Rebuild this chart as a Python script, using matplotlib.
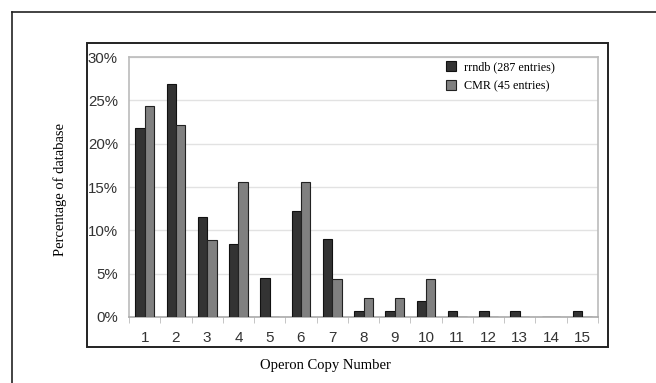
import numpy as np
import matplotlib.pyplot as plt
from matplotlib.patches import Rectangle
from matplotlib.lines import Line2D
from matplotlib.ticker import FuncFormatter

# andmed (loetud pildilt, protsentides)
copy_number = [1, 2, 3, 4, 5, 6, 7, 8, 9, 10, 11, 12, 13, 14, 15]
rrndb = [21.8, 26.9, 11.5, 8.4, 4.5, 12.2, 9.0, 0.7, 0.7, 1.9, 0.7, 0.7, 0.7, 0.0, 0.7]
cmr = [24.4, 22.2, 8.9, 15.6, 0.0, 15.6, 4.4, 2.2, 2.2, 4.4, 0.0, 0.0, 0.0, 0.0, 0.0]
labels = ["rrndb (287 entries)", "CMR (45 entries)"]

W, H = 656, 383
fig = plt.figure(figsize=(W / 100, H / 100), dpi=100)

# raamid
fig.add_artist(Line2D([12 / W, 12 / W], [0, 1 - 12 / H], color="#222222", lw=1.2))
fig.add_artist(Line2D([12 / W, 1], [1 - 12 / H, 1 - 12 / H], color="#222222", lw=1.2))
fig.add_artist(Rectangle((87 / W, 1 - 347 / H), (608 - 87) / W, (347 - 43) / H,
                         fill=False, edgecolor="#222222", lw=1.4))

ax = fig.add_axes([129 / W, 1 - 317 / H, (598 - 129) / W, (317 - 57) / H])
x = np.array(copy_number)
w = 0.3
ax.bar(x - w / 2, rrndb, w, color="#333333", edgecolor="#111111", lw=0.8, label=labels[0], zorder=3)
ax.bar(x + w / 2, cmr, w, color="#808080", edgecolor="#222222", lw=0.8, label=labels[1], zorder=3)

ax.set_xlim(0.5, 15.5)
ax.set_ylim(0, 30)
ax.set_yticks(range(0, 31, 5))
ax.yaxis.set_major_formatter(FuncFormatter(lambda v, p: f"{v:.0f}%"))
ax.set_xticks(x)
ax.set_xticks(np.arange(0.5, 15.6, 1), minor=True)
ax.tick_params(axis="x", which="major", length=0, pad=10, labelsize=11)
ax.tick_params(axis="x", which="minor", length=4, color="#bbbbbb", direction="out")
ax.tick_params(axis="y", length=0, pad=8, labelsize=10.8)
for t in ax.get_xticklabels() + ax.get_yticklabels():
    t.set_family("Liberation Sans")
    t.set_color("#333333")

ax.grid(axis="y", color="#e2e2e2", lw=1, zorder=0)
for s in ax.spines.values():
    s.set_color("#bbbbbb")
    s.set_linewidth(1.2)
ax.spines["bottom"].set_color("#aaaaaa")

leg = ax.legend(loc="upper left", bbox_to_anchor=(0.675, 0.985), frameon=False,
                prop={"family": "Liberation Serif", "size": 8.7},
                borderpad=0, borderaxespad=0,
                handlelength=0.9, handleheight=0.9, handletextpad=0.6, labelspacing=0.55)

fig.text(325 / W, 1 - 366 / H, "Operon Copy Number", ha="center", va="center",
         family="Liberation Serif", fontsize=10.5)
fig.text(60 / W, 1 - 189 / H, "Percentage of database", ha="center", va="center",
         rotation=90, family="Liberation Serif", fontsize=10.5)

fig.savefig("out.png", dpi=100)
